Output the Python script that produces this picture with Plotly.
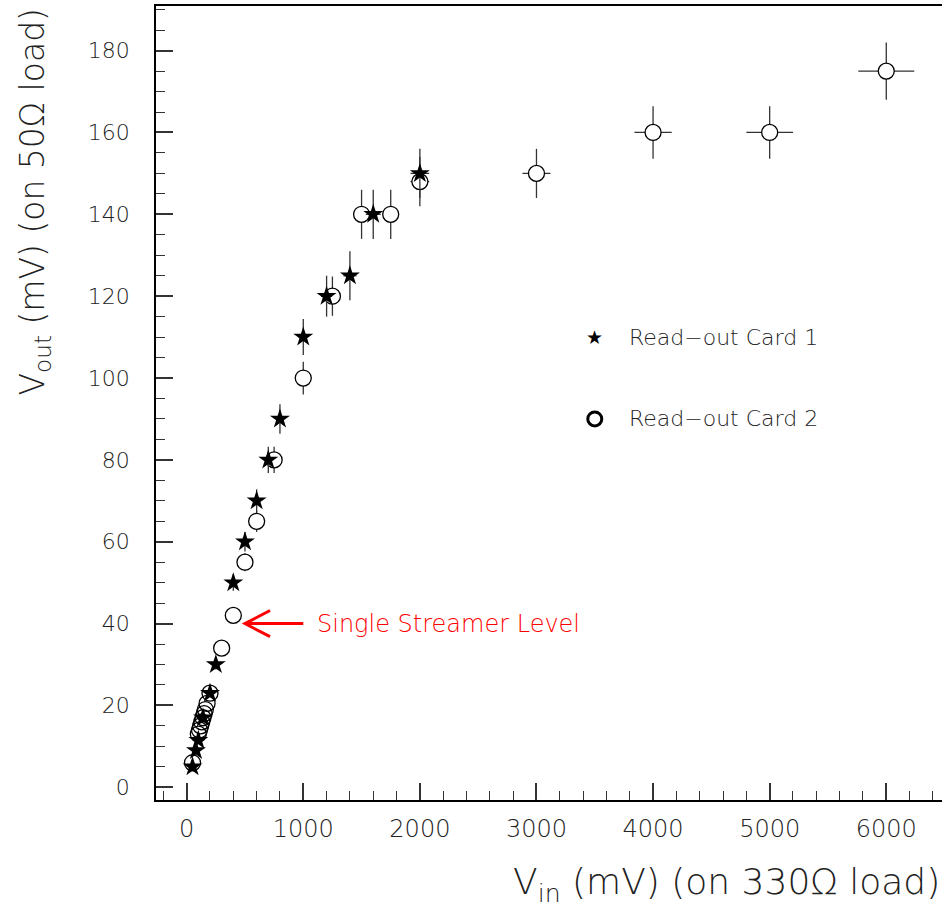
import plotly.graph_objects as go

# Read-out Card 1 (filled stars): input / output amplitudes in mV
card1_vin = [50, 80, 100, 140, 200, 250, 400, 500, 600, 700, 800, 1000, 1200, 1400, 1600, 2000]
card1_vout = [5, 9, 11.5, 17, 23, 30, 50, 60, 70, 80, 90, 110, 120, 125, 140, 150]
card1_vin_err = [2, 3, 4, 6, 8, 10, 16, 20, 24, 28, 32, 40, 48, 56, 64, 80]
card1_vout_err = [0.2, 0.4, 0.5, 0.7, 0.9, 1.2, 2, 2.4, 2.8, 3.2, 3.6, 4.4, 5, 6, 6, 6]

# Read-out Card 2 (open circles)
card2_vin = [50, 100, 110, 120, 130, 140, 150, 160, 175, 200, 300, 400, 500, 600, 750,
             1000, 1250, 1500, 1750, 2000, 3000, 4000, 5000, 6000]
card2_vout = [6, 13, 14, 15, 16, 17, 18, 19, 20.5, 23, 34, 42, 55, 65, 80,
              100, 120, 140, 140, 148, 150, 160, 160, 175]
card2_vin_err = [2, 4, 4, 5, 5, 6, 6, 6, 7, 8, 12, 16, 20, 24, 30,
                 40, 50, 60, 70, 80, 120, 160, 200, 240]
card2_vout_err = [0.2, 0.5, 0.6, 0.6, 0.6, 0.7, 0.7, 0.8, 0.8, 0.9, 1.4, 1.7, 2.2, 2.6, 3.2,
                  4, 4.8, 6, 6, 6, 6, 6.4, 6.4, 7]

FONT = "DejaVu Sans"
INK = "#222222"
BAR = dict(type="data", width=0, thickness=1.3, color="#333333")

fig = go.Figure()

# Card 2 error bars, with white discs so each bar stops at the marker edge
fig.add_trace(go.Scatter(
    x=card2_vin, y=card2_vout, mode="markers",
    error_x=dict(BAR, array=card2_vin_err),
    error_y=dict(BAR, array=card2_vout_err),
    marker=dict(symbol="circle", size=16, color="white", line=dict(width=0)),
    hoverinfo="skip", showlegend=False,
))
# Card 2 hollow circle outlines
fig.add_trace(go.Scatter(
    x=card2_vin, y=card2_vout, mode="markers", name="Read-out Card 2",
    marker=dict(symbol="circle-open", size=16, color="black",
                line=dict(color="black", width=1.3)),
    showlegend=False,
))
# Card 1 stars with their error bars
fig.add_trace(go.Scatter(
    x=card1_vin, y=card1_vout, mode="markers", name="Read-out Card 1",
    error_x=dict(BAR, array=card1_vin_err),
    error_y=dict(BAR, array=card1_vout_err),
    marker=dict(symbol="star", size=15, color="black", line=dict(width=0)),
    showlegend=False,
))

# In-frame key
KEY_X = 3500
KEY_ROWS = [(110, "Read\u2212out Card 1"), (90, "Read\u2212out Card 2")]
fig.add_annotation(x=KEY_X, y=KEY_ROWS[0][0], text="\u2605", showarrow=False,
                   font=dict(family=FONT, size=19, color="black"),
                   xanchor="center", yanchor="middle")
fig.add_shape(type="circle", xref="x", yref="y", xsizemode="pixel", ysizemode="pixel",
              xanchor=KEY_X, yanchor=KEY_ROWS[1][0], x0=-7, x1=7, y0=-7, y1=7,
              line=dict(color="black", width=3), fillcolor="rgba(0,0,0,0)")
for yk, label in KEY_ROWS:
    fig.add_annotation(x=KEY_X, y=yk, text=label, showarrow=False, xshift=32,
                       xanchor="left", yanchor="middle",
                       font=dict(family=FONT, size=22, color=INK, weight=300))

# Single-streamer marker: red open arrow and label
ARROW_TIP, ARROW_TAIL, ARROW_Y = 500, 1000, 40
ARM_X, ARM_DY = 715, 3.2
fig.add_shape(type="path", xref="x", yref="y",
              path=(f"M {ARROW_TAIL},{ARROW_Y} L {ARROW_TIP},{ARROW_Y} "
                    f"M {ARM_X},{ARROW_Y + ARM_DY} L {ARROW_TIP},{ARROW_Y} L {ARM_X},{ARROW_Y - ARM_DY}"),
              line=dict(color="#ff0000", width=3))
fig.add_annotation(x=1100, y=ARROW_Y, text="Single Streamer Level", showarrow=False,
                   xanchor="left", yanchor="middle",
                   font=dict(family=FONT, size=24, color="#ff0000", weight=300))

# Axis titles (aligned to the far ends of the axes)
fig.add_annotation(xref="paper", yref="paper", x=-0.154, y=1.0,
                   text="V<sub>out</sub> (mV) (on 50\u03a9 load)", textangle=-90,
                   showarrow=False, xanchor="center", yanchor="top",
                   font=dict(family=FONT, size=33, color=INK, weight=300))
fig.add_annotation(xref="paper", yref="paper", x=1.0, y=-0.106,
                   text="V<sub>in</sub> (mV) (on 330\u03a9 load)",
                   showarrow=False, xanchor="right", yanchor="middle",
                   font=dict(family=FONT, size=36, color=INK, weight=300))

axis_common = dict(
    ticks="inside", ticklen=17, tickwidth=1.5, tickcolor="#333333",
    showline=True, linecolor="black", linewidth=1.5,
    showgrid=False, zeroline=False,
)
fig.update_layout(
    width=942, height=911,
    margin=dict(l=156, r=0, t=6, b=111),
    plot_bgcolor="white", paper_bgcolor="white",
    showlegend=False,
    xaxis=dict(axis_common, range=[-263, 6478], tick0=0, dtick=1000, mirror=True,
               minor=dict(tick0=0, dtick=200, ticks="inside", ticklen=9,
                          tickwidth=1.2, tickcolor="#333333"),
               tickfont=dict(family=FONT, size=24, color=INK, weight=300),
               ticklabelstandoff=6),
    yaxis=dict(axis_common, range=[-3.1, 190.9], tick0=0, dtick=20, mirror=False,
               minor=dict(tick0=0, dtick=5, ticks="inside", ticklen=9,
                          tickwidth=1.2, tickcolor="#333333"),
               tickfont=dict(family=FONT, size=22, color=INK, weight=300),
               ticklabelstandoff=20),
)

fig.write_html("out.html")
